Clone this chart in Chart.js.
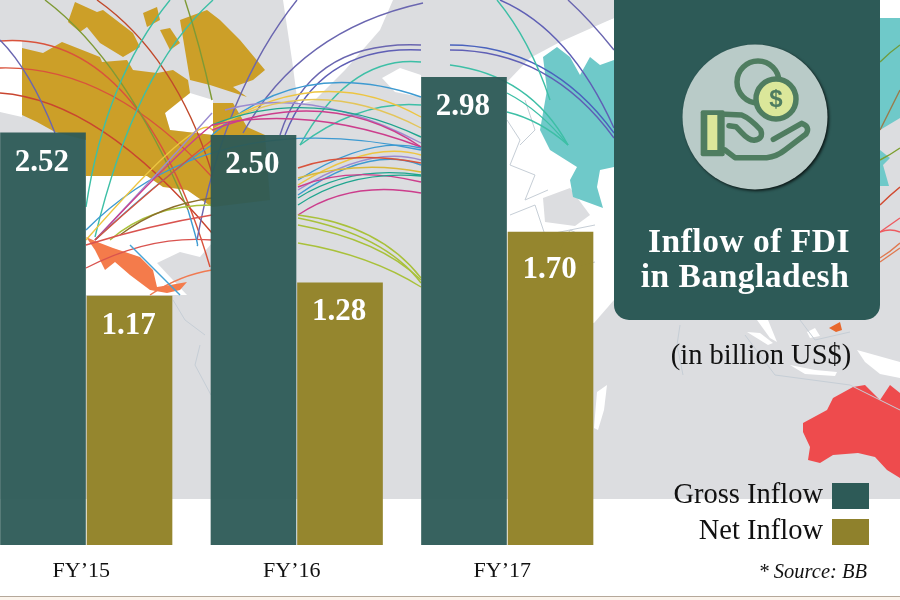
<!DOCTYPE html>
<html>
<head>
<meta charset="utf-8">
<title>Inflow of FDI in Bangladesh</title>
<script src="https://cdn.jsdelivr.net/npm/chart.js@4/dist/chart.umd.min.js"></script>
<style>
    html, body { margin: 0; padding: 0; background: #fff; overflow: hidden; }
    /* the first bar runs off the left edge of the page */
    canvas { display: block; margin-left: -19px; }
</style>
</head>
<body>
<canvas id="fdiChart" width="919" height="600"></canvas>
<script>
// Chart data
const categories = ['FY\u201915', 'FY\u201916', 'FY\u201917'];
const grossInflow = [2.52, 2.50, 2.98];
const netInflow = [1.17, 1.28, 1.70];
const seriesNames = ['Gross Inflow', 'Net Inflow'];

const GROSS_COLOR = 'rgba(44, 90, 86, 0.95)';
const NET_COLOR = 'rgba(147, 132, 42, 0.98)';
const PANEL_COLOR = '#2d5a57';
const SERIF = '"Liberation Serif", "Times New Roman", serif';
const PAGE_SHIFT = 19;

// The bars in the artwork stand on a cut-off axis, their feet are below zero
const AXIS_MIN = -0.892;
const AXIS_MAX = 3.616;

// Background map, drawn in page pixels
const MAP_GREY = '#dcdde0';
const canada = [
    [[22, 48], [43, 53], [62, 42], [100, 57], [102, 62], [127, 60], [133, 70], [157, 73], [173, 70], [188, 80], [190, 93], [165, 113], [170, 130], [213, 135], [213, 103], [233, 103], [247, 127], [265, 135], [270, 200], [212, 207], [197, 197], [187, 190], [163, 187], [147, 176], [86, 176], [86, 140], [55, 132], [37, 122], [22, 115]],
    [[180, 20], [207, 10], [220, 20], [240, 40], [265, 70], [253, 80], [233, 87], [247, 97], [210, 85], [190, 80]],
    [[68, 22], [75, 2], [97, 12], [103, 10], [133, 33], [140, 47], [123, 57], [100, 43], [87, 27], [80, 32]],
    [[143, 13], [157, 7], [160, 20], [147, 27]],
    [[160, 30], [170, 28], [180, 43], [170, 50]]
];
const mexico = [[86, 237], [100, 243], [113, 248], [140, 257], [153, 270], [157, 287], [170, 285], [187, 282], [180, 290], [167, 293], [150, 290], [130, 275], [115, 262], [105, 270], [95, 250]];
const whitePatches = [
    [[0, 40], [22, 40], [22, 117], [0, 112]],
    [[165, 113], [177, 100], [190, 93], [213, 100], [213, 135], [170, 130]],
    [[86, 176], [212, 176], [212, 243], [200, 257], [180, 252], [157, 263], [187, 295], [86, 295]],
    [[283, 0], [393, 0], [380, 30], [345, 70], [315, 100], [298, 105], [292, 60]],
    [[382, 78], [400, 68], [421, 75], [421, 97], [395, 92]],
    [[507, 82], [530, 58], [560, 42], [614, 18], [614, 300], [594, 323], [507, 300]],
    [[597, 392], [607, 385], [604, 410], [598, 430], [594, 428]],
    [[747, 332], [760, 333], [773, 343], [768, 345]],
    [[757, 320], [768, 320], [777, 342], [770, 338]],
    [[790, 365], [815, 370], [837, 372], [835, 376], [805, 374]],
    [[807, 332], [815, 328], [820, 336], [810, 338]],
    [[857, 350], [900, 362], [900, 378], [880, 374], [865, 362]],
    [[880, 0], [900, 0], [900, 18], [880, 18]]
];
const greyPatches = [
    [[543, 198], [570, 188], [590, 215], [575, 226], [545, 222]],
    [[507, 0], [614, 0], [614, 18], [560, 38], [530, 52], [507, 75]],
    [[880, 118], [900, 118], [900, 320], [880, 320]]
];
const russia = [
    [[543, 57], [557, 47], [570, 57], [580, 75], [590, 57], [600, 65], [614, 60], [614, 167], [600, 170], [597, 187], [603, 208], [573, 197], [570, 180], [577, 167], [550, 150], [540, 130], [547, 90]],
    [[880, 18], [900, 18], [900, 118], [880, 130]],
    [[880, 150], [890, 158], [883, 165], [889, 186], [880, 186]]
];
const australia = [[803, 423], [827, 410], [833, 398], [853, 387], [865, 385], [880, 400], [890, 385], [900, 393], [900, 478], [887, 470], [875, 457], [858, 453], [833, 455], [820, 463], [808, 460], [810, 447], [803, 432]];

// [x0, y0, ctrlX, ctrlY, x1, y1, colour]
const arcs = [
    [0, 41, 140, 30, 210, 267, '#d9533c'],
    [0, 68, 110, 65, 212, 177, '#d9533c'],
    [0, 93, 100, 100, 212, 233, '#c9452f'],
    [0, 40, 30, 70, 55, 133, '#6a66b0'],
    [45, 0, 125, 60, 188, 210, '#7e9a35'],
    [97, 0, 175, 55, 212, 173, '#c1492b'],
    [170, 0, 105, 80, 86, 207, '#3dbfa6'],
    [213, 0, 135, 70, 95, 237, '#3dbfa6'],
    [185, 0, 200, 45, 212, 100, '#7e9a35'],
    [297, 0, 225, 90, 197, 240, '#6a66b0'],
    [423, 3, 300, 30, 243, 133, '#6a66b0'],
    [421, 45, 310, 40, 280, 135, '#6a66b0'],
    [421, 50, 320, 45, 285, 135, '#5f5fb5'],
    [421, 62, 350, 55, 300, 145, '#3dbfa6'],
    [421, 105, 360, 100, 300, 145, '#3dbfa6'],
    [212, 135, 300, 55, 421, 97, '#3d9ad1'],
    [212, 130, 320, 60, 421, 117, '#edc541'],
    [225, 110, 310, 85, 421, 143, '#9b8bd0'],
    [212, 130, 310, 70, 421, 128, '#e3c55a'],
    [212, 125, 310, 85, 421, 137, '#1fa58f'],
    [212, 130, 330, 85, 421, 147, '#cc3d8c'],
    [212, 125, 310, 105, 421, 147, '#cc3d8c'],
    [86, 230, 210, 105, 421, 150, '#3d9ad1'],
    [86, 240, 200, 110, 212, 130, '#edc541'],
    [95, 240, 170, 160, 212, 113, '#9b8bd0'],
    [95, 240, 180, 150, 212, 125, '#cc3d8c'],
    [95, 240, 170, 170, 212, 145, '#3d9ad1'],
    [95, 240, 150, 190, 212, 140, '#d9533c'],
    [110, 240, 150, 205, 212, 205, '#a9c13a'],
    [120, 235, 160, 205, 212, 198, '#8c6f2a'],
    [86, 245, 150, 225, 212, 215, '#d9534f'],
    [86, 268, 150, 235, 212, 240, '#d9534f'],
    [150, 295, 180, 275, 212, 270, '#f07a52'],
    [188, 210, 200, 250, 197, 245, '#3d9ad1'],
    [180, 295, 150, 265, 130, 245, '#45a3d6'],
    [298, 180, 370, 135, 421, 148, '#3d9ad1'],
    [298, 185, 370, 140, 421, 155, '#edc541'],
    [298, 190, 370, 145, 421, 160, '#9b8bd0'],
    [298, 195, 370, 145, 421, 165, '#3d9ad1'],
    [298, 168, 350, 150, 421, 163, '#d9533c'],
    [298, 178, 360, 160, 421, 172, '#d9b93a'],
    [298, 198, 350, 165, 421, 175, '#1fa58f'],
    [298, 187, 350, 165, 421, 182, '#cc3d8c'],
    [298, 205, 350, 170, 421, 176, '#1fa58f'],
    [298, 215, 350, 180, 421, 193, '#cc3d8c'],
    [298, 215, 380, 225, 421, 278, '#a9c13a'],
    [298, 218, 385, 235, 421, 283, '#a9c13a'],
    [298, 225, 380, 240, 421, 280, '#a9c13a'],
    [298, 243, 370, 255, 421, 287, '#a9c13a'],
    [500, 0, 570, 30, 614, 128, '#5f5fb5'],
    [450, 45, 550, 45, 614, 133, '#4a62bd'],
    [450, 50, 550, 50, 614, 138, '#5f5fb5'],
    [568, 0, 590, 20, 614, 50, '#6a66b0'],
    [497, 0, 530, 40, 550, 100, '#3dbfa6'],
    [450, 65, 530, 75, 568, 145, '#3dbfa6'],
    [507, 93, 540, 110, 568, 145, '#3dbfa6'],
    [507, 112, 540, 120, 568, 145, '#3dbfa6'],
    [880, 62, 890, 52, 900, 45, '#6f9c3e'],
    [880, 130, 890, 110, 900, 90, '#9a7a4a'],
    [880, 160, 890, 155, 900, 148, '#7c9e2e'],
    [880, 205, 890, 195, 900, 187, '#d14a30'],
    [880, 232, 890, 225, 900, 218, '#ee5a5f'],
    [880, 232, 890, 228, 900, 232, '#ee5a5f'],
    [880, 258, 890, 252, 900, 243, '#e0784f'],
    [880, 262, 890, 255, 900, 248, '#e0784f']
];
const borders = [
    [[507, 120], [520, 140], [510, 165], [535, 175], [525, 200], [548, 190]],
    [[510, 215], [535, 205], [545, 235], [595, 225]],
    [[525, 100], [535, 130], [520, 145]],
    [[535, 255], [560, 250], [570, 230], [592, 240]],
    [[565, 270], [595, 262]],
    [[173, 300], [185, 320], [205, 335]],
    [[200, 345], [195, 365], [211, 395]],
    [[680, 325], [677, 345], [683, 375]],
    [[745, 335], [775, 375], [850, 385], [900, 410]],
    [[800, 320], [815, 340], [850, 332]]
];

function polygon(ctx, pts, color) {
    ctx.fillStyle = color;
    ctx.beginPath();
    pts.forEach((p, i) => i ? ctx.lineTo(p[0], p[1]) : ctx.moveTo(p[0], p[1]));
    ctx.closePath();
    ctx.fill();
}

function drawMap(ctx) {
    ctx.fillStyle = '#ffffff';
    ctx.fillRect(0, 0, 900, 600);
    ctx.fillStyle = MAP_GREY;
    ctx.fillRect(0, 0, 900, 499);
    whitePatches.forEach(p => polygon(ctx, p, '#ffffff'));
    greyPatches.forEach(p => polygon(ctx, p, MAP_GREY));
    canada.forEach(p => polygon(ctx, p, '#cc9f28'));
    polygon(ctx, mexico, '#f47b4b');
    russia.forEach(p => polygon(ctx, p, '#6fc9c9'));
    polygon(ctx, australia, '#ee4b4d');
    polygon(ctx, [[829, 328], [840, 322], [842, 330], [836, 332]], '#e8682c');

    ctx.strokeStyle = '#c6ced6';
    ctx.lineWidth = 1;
    borders.forEach(b => {
        ctx.beginPath();
        b.forEach((p, i) => i ? ctx.lineTo(p[0], p[1]) : ctx.moveTo(p[0], p[1]));
        ctx.stroke();
    });

    ctx.lineWidth = 1.4;
    arcs.forEach(a => {
        ctx.strokeStyle = a[6];
        ctx.beginPath();
        ctx.moveTo(a[0], a[1]);
        ctx.quadraticCurveTo(a[2], a[3], a[4], a[5]);
        ctx.stroke();
    });

    // page foot rule
    ctx.fillStyle = '#b5a89a';
    ctx.fillRect(0, 596, 900, 1);
    ctx.fillStyle = '#fbf4ec';
    ctx.fillRect(0, 597, 900, 3);
}

// Icon points are measured on a 3x crop starting at (670, 35)
function ix(x) { return 670 + x / 3; }
function iy(y) { return 35 + y / 3; }

function drawIcon(ctx) {
    const line = '#4f7d60';
    const pale = '#dbe79a';

    ctx.save();
    ctx.shadowColor = 'rgba(0, 0, 0, 0.75)';
    ctx.shadowBlur = 3;
    ctx.shadowOffsetX = 1.5;
    ctx.shadowOffsetY = 1.5;
    ctx.fillStyle = '#b9cbc8';
    ctx.beginPath();
    ctx.arc(755, 117, 72.5, 0, Math.PI * 2);
    ctx.fill();
    ctx.restore();

    ctx.strokeStyle = line;
    ctx.lineWidth = 5.5;
    ctx.lineCap = 'round';
    ctx.lineJoin = 'round';

    ctx.beginPath();
    ctx.arc(758, 82, 21, 0, Math.PI * 2);
    ctx.stroke();

    ctx.fillStyle = pale;
    ctx.beginPath();
    ctx.arc(776, 99, 20, 0, Math.PI * 2);
    ctx.fill();
    ctx.stroke();

    ctx.fillStyle = line;
    ctx.font = 'bold 24px "Liberation Sans", sans-serif';
    ctx.textAlign = 'center';
    ctx.textBaseline = 'middle';
    ctx.fillText('$', 776, 100);

    // cuff
    ctx.fillStyle = line;
    ctx.beginPath();
    ctx.roundRect(ix(92), iy(226), 24, 46, 2);
    ctx.fill();
    ctx.fillStyle = pale;
    ctx.fillRect(ix(112), iy(240), 10, 35);

    // hand
    ctx.beginPath();
    ctx.moveTo(ix(165), iy(238));
    ctx.lineTo(ix(215), iy(240));
    ctx.quadraticCurveTo(ix(240), iy(250), ix(272), iy(285));
    ctx.quadraticCurveTo(ix(282), iy(312), ix(252), iy(316));
    ctx.quadraticCurveTo(ix(235), iy(315), ix(215), iy(293));
    ctx.lineTo(ix(198), iy(275));
    ctx.lineTo(ix(177), iy(272));
    ctx.moveTo(ix(165), iy(345));
    ctx.lineTo(ix(195), iy(368));
    ctx.lineTo(ix(290), iy(368));
    ctx.quadraticCurveTo(ix(320), iy(365), ix(345), iy(345));
    ctx.lineTo(ix(408), iy(297));
    ctx.quadraticCurveTo(ix(422), iy(275), ix(395), iy(265));
    ctx.lineTo(ix(310), iy(313));
    ctx.stroke();
}

function drawPanel(ctx) {
    ctx.fillStyle = PANEL_COLOR;
    ctx.beginPath();
    ctx.roundRect(614, -30, 266, 350, 15);
    ctx.fill();
    drawIcon(ctx);

    ctx.fillStyle = '#ffffff';
    ctx.textAlign = 'center';
    ctx.textBaseline = 'middle';
    ctx.font = 'bold 33.5px ' + SERIF;
    ctx.letterSpacing = '0.5px';
    ctx.fillText('Inflow of FDI', 749, 243);
    ctx.fillText('in Bangladesh', 745, 278);
    ctx.letterSpacing = '0px';

    ctx.fillStyle = '#111111';
    ctx.font = '28.5px ' + SERIF;
    ctx.fillText('(in billion US$)', 761, 357);
}

function drawKey(chart) {
    const ctx = chart.ctx;
    const rows = [[496, 483], [532, 519]];
    ctx.textAlign = 'right';
    ctx.textBaseline = 'middle';
    ctx.font = '28.5px ' + SERIF;
    chart.data.datasets.forEach((ds, i) => {
        ctx.fillStyle = '#111111';
        ctx.fillText(ds.label, 823, rows[i][0]);
        ctx.fillStyle = i === 0 ? PANEL_COLOR : '#8f812c';
        ctx.fillRect(832, rows[i][1], 37, 26);
    });
    ctx.font = 'italic 20.5px ' + SERIF;
    ctx.fillStyle = '#111111';
    ctx.fillText('* Source: BB', 867, 573);
}

const artworkPlugin = {
    id: 'artwork',
    beforeDraw(chart) {
        const ctx = chart.ctx;
        ctx.save();
        ctx.translate(PAGE_SHIFT, 0);
        drawMap(ctx);
        ctx.restore();
    },
    afterDraw(chart) {
        const ctx = chart.ctx;
        ctx.save();
        // value labels sit inside the top of each bar
        ctx.fillStyle = '#ffffff';
        ctx.textAlign = 'center';
        ctx.textBaseline = 'middle';
        ctx.font = 'bold 31px ' + SERIF;
        chart.data.datasets.forEach((ds, d) => {
            chart.getDatasetMeta(d).data.forEach((bar, i) => {
                ctx.fillText(ds.data[i].toFixed(2), bar.x - 1, bar.y + (ds.data[i] === 1.70 ? 38 : 30));
            });
        });
        ctx.translate(PAGE_SHIFT, 0);
        drawPanel(ctx);
        drawKey(chart);
        ctx.restore();
    }
};

new Chart(document.getElementById('fdiChart').getContext('2d'), {
    type: 'bar',
    data: {
        labels: categories,
        datasets: [
            { label: seriesNames[0], data: grossInflow, backgroundColor: GROSS_COLOR, base: AXIS_MIN },
            { label: seriesNames[1], data: netInflow, backgroundColor: NET_COLOR, base: AXIS_MIN }
        ]
    },
    options: {
        responsive: false,
        animation: false,
        layout: { padding: { left: 0, right: 287.5, top: 0, bottom: 0 } },
        datasets: { bar: { categoryPercentage: 0.822, barPercentage: 0.99 } },
        plugins: {
            legend: { display: false },
            title: { display: false },
            tooltip: { enabled: false }
        },
        scales: {
            x: {
                grid: { display: false, drawTicks: false },
                border: { display: false },
                afterFit: (scale) => { scale.height = 55; },
                ticks: {
                    color: '#111111',
                    padding: 13,
                    labelOffset: -5,
                    font: { family: SERIF, size: 22 }
                }
            },
            y: { display: false, min: AXIS_MIN, max: AXIS_MAX }
        }
    },
    plugins: [artworkPlugin]
});
</script>
</body>
</html>
